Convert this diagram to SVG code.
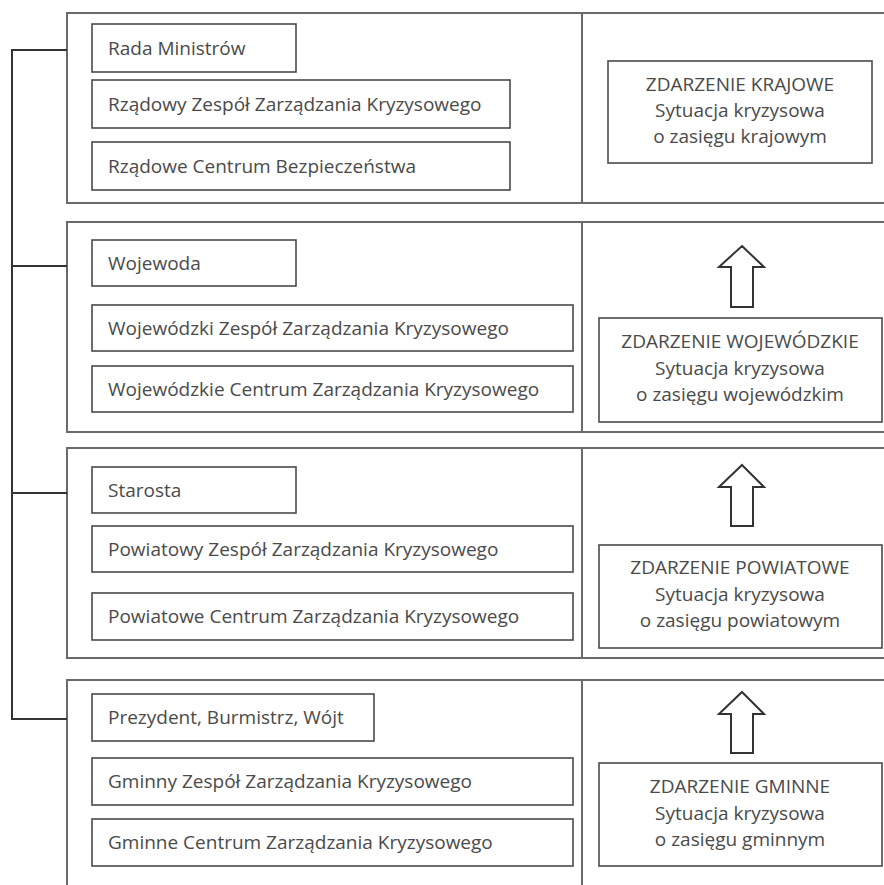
<svg xmlns="http://www.w3.org/2000/svg" width="884" height="885" viewBox="0 0 884 885">
<style>
.panel{fill:#fff;stroke:#6a6a6a;stroke-width:2}
.div{stroke:#6a6a6a;stroke-width:2}
.box{fill:#fff;stroke:#4a4a4a;stroke-width:1.6}
.t{font-family:"Open Sans","Liberation Sans",sans-serif;font-size:19px;fill:#4a4a4a}
.c{text-anchor:middle}
.bus{fill:none;stroke:#333;stroke-width:2}
.arr{fill:#fff;stroke:#333;stroke-width:2;stroke-linejoin:miter}
</style>
<rect width="884" height="885" fill="#fff"/>
<g id="panel-krajowy">
<rect class="panel" x="67" y="13" width="830" height="190"/>
<line class="div" x1="582" y1="13" x2="582" y2="203"/>
</g>
<g id="panel-wojewodzki">
<rect class="panel" x="67" y="222" width="830" height="210"/>
<line class="div" x1="582" y1="222" x2="582" y2="432"/>
</g>
<g id="panel-powiatowy">
<rect class="panel" x="67" y="448" width="830" height="210"/>
<line class="div" x1="582" y1="448" x2="582" y2="658"/>
</g>
<g id="panel-gminny">
<path class="panel" d="M67,890 V680 H897"/>
<line class="div" x1="582" y1="680" x2="582" y2="890"/>
</g>
<g id="connectors">
<path class="bus" d="M67,50 H12 V719 H67 M12,266 H67 M12,493 H67"/>
<polygon class="arr" points="742,246 764,267 753,267 753,307 731,307 731,267 719,267"/>
<polygon class="arr" points="742,465 764,487 753,487 753,526 731,526 731,487 719,487"/>
<polygon class="arr" points="742,692 764,714 753,714 753,753 731,753 731,714 719,714"/>
</g>
<!-- national -->
<g id="rada-ministrow"><rect class="box" x="92" y="24" width="204" height="48"/><text class="t" x="108" y="55">Rada Ministrów</text></g>
<g id="rzadowy-zespol"><rect class="box" x="92" y="80" width="418" height="48"/><text class="t" x="108" y="111">Rządowy Zespół Zarządzania Kryzysowego</text></g>
<g id="rzadowe-centrum"><rect class="box" x="92" y="142" width="418" height="48"/><text class="t" x="108" y="173">Rządowe Centrum Bezpieczeństwa</text></g>
<g id="zdarzenie-krajowe"><rect class="box" x="608" y="61" width="264" height="102"/>
<text class="t c" x="740" y="91">ZDARZENIE KRAJOWE</text>
<text class="t c" x="740" y="117">Sytuacja kryzysowa</text>
<text class="t c" x="740" y="143">o zasięgu krajowym</text></g>
<!-- voivodeship -->
<g id="wojewoda"><rect class="box" x="92" y="240" width="204" height="46"/><text class="t" x="108" y="270">Wojewoda</text></g>
<g id="wojewodzki-zespol"><rect class="box" x="92" y="305" width="481" height="46"/><text class="t" x="108" y="335">Wojewódzki Zespół Zarządzania Kryzysowego</text></g>
<g id="wojewodzkie-centrum"><rect class="box" x="92" y="366" width="481" height="46"/><text class="t" x="108" y="396">Wojewódzkie Centrum Zarządzania Kryzysowego</text></g>
<g id="zdarzenie-wojewodzkie"><rect class="box" x="599" y="318" width="283" height="104"/>
<text class="t c" x="740" y="348">ZDARZENIE WOJEWÓDZKIE</text>
<text class="t c" x="740" y="375">Sytuacja kryzysowa</text>
<text class="t c" x="740" y="401">o zasięgu wojewódzkim</text></g>
<!-- county -->
<g id="starosta"><rect class="box" x="92" y="467" width="204" height="46"/><text class="t" x="108" y="497">Starosta</text></g>
<g id="powiatowy-zespol"><rect class="box" x="92" y="526" width="481" height="46"/><text class="t" x="108" y="556">Powiatowy Zespół Zarządzania Kryzysowego</text></g>
<g id="powiatowe-centrum"><rect class="box" x="92" y="593" width="481" height="47"/><text class="t" x="108" y="623">Powiatowe Centrum Zarządzania Kryzysowego</text></g>
<g id="zdarzenie-powiatowe"><rect class="box" x="599" y="545" width="283" height="103"/>
<text class="t c" x="740" y="574">ZDARZENIE POWIATOWE</text>
<text class="t c" x="740" y="601">Sytuacja kryzysowa</text>
<text class="t c" x="740" y="627">o zasięgu powiatowym</text></g>
<!-- municipality -->
<g id="prezydent-burmistrz-wojt"><rect class="box" x="92" y="694" width="282" height="47"/><text class="t" x="108" y="724">Prezydent, Burmistrz, Wójt</text></g>
<g id="gminny-zespol"><rect class="box" x="92" y="758" width="481" height="47"/><text class="t" x="108" y="788">Gminny Zespół Zarządzania Kryzysowego</text></g>
<g id="gminne-centrum"><rect class="box" x="92" y="819" width="481" height="47"/><text class="t" x="108" y="849">Gminne Centrum Zarządzania Kryzysowego</text></g>
<g id="zdarzenie-gminne"><rect class="box" x="599" y="763" width="283" height="103"/>
<text class="t c" x="740" y="793">ZDARZENIE GMINNE</text>
<text class="t c" x="740" y="820">Sytuacja kryzysowa</text>
<text class="t c" x="740" y="846">o zasięgu gminnym</text></g>
</svg>
